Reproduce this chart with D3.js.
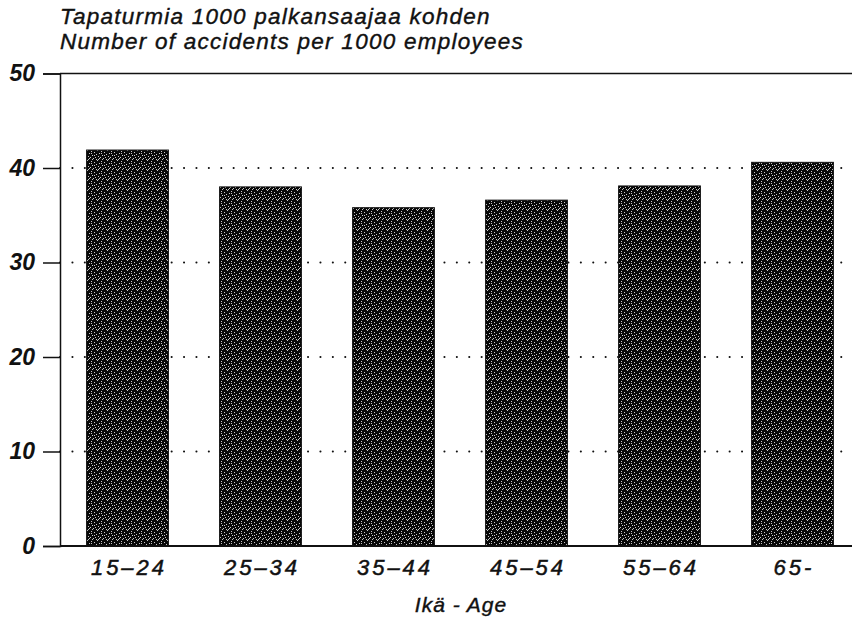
<!DOCTYPE html>
<html>
<head>
<meta charset="utf-8">
<script src="https://cdn.jsdelivr.net/npm/d3@7"></script>
<style>
  body { margin: 0; background: #fff; }
  text { font-family: "Liberation Sans", Arial, sans-serif; font-style: italic; fill: #111; }
</style>
</head>
<body>
<svg class="chart"></svg>
<script>
var ages = ["15\u201324", "25\u201334", "35\u201344", "45\u201354", "55\u201364", "65-"];
var rates = [41.9, 38.0, 35.8, 36.6, 38.1, 40.6];
var yTicks = [0, 10, 20, 30, 40, 50];
var titleLines = ["Tapaturmia 1000 palkansaajaa kohden", "Number of accidents per 1000 employees"];
var xTitle = "Ikä - Age";

var frameWidth = 852;
var frameHeight = 619;
var lmargin = 60;
var tmargin = 73.5;
var plotRight = 852;
var plotBottom = 546;

var svg = d3.select(".chart")
  .attr("width", frameWidth)
  .attr("height", frameHeight);

// speckled bar texture
var defs = svg.append("defs");
var pat = defs.append("pattern")
  .attr("id", "speckle")
  .attr("patternUnits", "userSpaceOnUse")
  .attr("width", 10).attr("height", 10);
pat.append("rect").attr("width", 10).attr("height", 10).attr("fill", "#080808");
[[1,1],[4,2],[7,0],[2,5],[6,4],[0,7],[5,7],[8,6],[3,8],[9,3],[8,9],[1,3],[6,9],[4,5],[9,8],[2,9]].forEach(function(p) {
  pat.append("rect").attr("x", p[0]).attr("y", p[1])
    .attr("width", 1).attr("height", 1).attr("fill", "#c8c8c8");
});

var xScale = d3.scaleBand().domain(ages).range([60, 860]).paddingInner(0.385).paddingOuter(0.2);
var yScale = d3.scaleLinear().domain([0, 50]).range([plotBottom, tmargin]);

// dotted gridlines
svg.append("g")
  .selectAll("line").data(yTicks.filter(function(d) { return d > 0 && d < 50; }))
  .enter().append("line")
  .attr("x1", lmargin).attr("x2", 842)
  .attr("y1", function(d) { return yScale(d); })
  .attr("y2", function(d) { return yScale(d); })
  .attr("stroke", "#111")
  .attr("stroke-width", 2)
  .attr("stroke-linecap", "round")
  .attr("stroke-dasharray", "0.1,12.3");

// bars
svg.append("g")
  .selectAll("rect").data(rates)
  .enter().append("rect")
  .attr("x", function(d, i) { return xScale(ages[i]); })
  .attr("y", function(d) { return yScale(d); })
  .attr("width", xScale.bandwidth())
  .attr("height", function(d) { return plotBottom - yScale(d); })
  .attr("fill", "url(#speckle)")
  .attr("stroke", "#111")
  .attr("stroke-width", 1);

// top frame line and baseline
svg.append("line").attr("x1", lmargin).attr("x2", plotRight)
  .attr("y1", yScale(50)).attr("y2", yScale(50))
  .attr("stroke", "#111").attr("stroke-width", 1.5);
svg.append("line").attr("x1", lmargin).attr("x2", plotRight)
  .attr("y1", yScale(0)).attr("y2", yScale(0))
  .attr("stroke", "#111").attr("stroke-width", 2);

// y axis
var yAxis = svg.append("g")
  .attr("transform", "translate(" + lmargin + ",0)")
  .call(d3.axisLeft(yScale).tickValues(yTicks).tickSize(17).tickPadding(8));
yAxis.select(".domain").attr("stroke", "#111").attr("stroke-width", 1.5);
yAxis.selectAll(".tick line").attr("stroke", "#111").attr("stroke-width", 1.5);
yAxis.selectAll(".tick text")
  .style("font-size", "23px")
  .style("font-weight", "bold")
  .style("font-family", "'Liberation Sans', Arial, sans-serif")
  .style("font-style", "italic")
  .attr("fill", "#111");

// x axis labels
var xAxis = svg.append("g")
  .attr("transform", "translate(1.5," + plotBottom + ")")
  .call(d3.axisBottom(xScale).tickSize(0).tickPadding(13));
xAxis.select(".domain").remove();
xAxis.selectAll(".tick text")
  .style("font-size", "22px")
  .style("font-family", "'Liberation Sans', Arial, sans-serif")
  .style("font-style", "italic")
  .style("letter-spacing", "3px")
  .style("stroke", "#111")
  .style("stroke-width", "0.5px")
  .attr("fill", "#111");

// titles
svg.append("g").selectAll("text").data(titleLines)
  .enter().append("text")
  .attr("x", 60)
  .attr("y", function(d, i) { return 24 + i * 24.5; })
  .style("font-size", "22.5px")
  .style("letter-spacing", "1.25px")
  .style("stroke", "#111")
  .style("stroke-width", "0.4px")
  .text(function(d) { return d; });

svg.append("text")
  .attr("x", 461)
  .attr("y", 612)
  .style("text-anchor", "middle")
  .style("font-size", "21px")
  .style("letter-spacing", "1px")
  .style("stroke", "#111")
  .style("stroke-width", "0.4px")
  .text(xTitle);
</script>
</body>
</html>
